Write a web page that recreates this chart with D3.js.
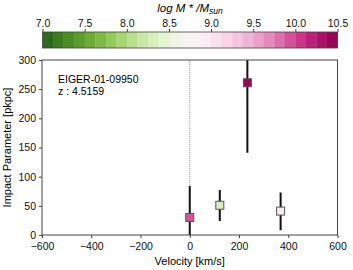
<!DOCTYPE html>
<html>
<head>
<meta charset="utf-8">
<script src="https://cdn.jsdelivr.net/npm/d3@7"></script>
<style>
body { margin: 0; background: #fff; }
text { font-family: "Liberation Sans", Arial, sans-serif; }
</style>
</head>
<body>
<div id="chart"></div>
<script>
// values
var velocities = [0, 122, 234, 369];
var impacts = [30, 51, 261, 41];
var errLow = [0, 24, 141, 8];
var errHigh = [84, 77, 310, 73];
var masses = [9.95, 8.3, 10.4, 8.95];
var xTicks = [-600, -400, -200, 0, 200, 400, 600];
var yTicks = [0, 50, 100, 150, 200, 250, 300];
var cbTicks = [7.0, 7.5, 8.0, 8.5, 9.0, 9.5, 10.0, 10.5];
var label = ["EIGER-01-09950", "z : 4.5159"];

var W = 353, H = 270;
var svg = d3.select("#chart").append("svg")
	.attr("width", W).attr("height", H);

var x = d3.scaleLinear().domain([-600, 600]).range([42, 337.5]);
var y = d3.scaleLinear().domain([0, 300]).range([235, 60]);
var cx = d3.scaleLinear().domain([7, 10.5]).range([42.5, 337.5]);

// discrete PiYG reversed colormap
var nBins = 28;
var colorOf = function(m) {
	var t = (m - 7) / 3.5;
	var k = Math.min(nBins - 1, Math.max(0, Math.floor(t * nBins)));
	return d3.interpolatePiYG(1 - (k + 0.5) / nBins);
};

//Colorbar
var cbY = 32, cbH = 16;
for (var i = 0; i < nBins; i++) {
	var m0 = 7 + i * 3.5 / nBins;
	svg.append("rect")
		.attr("x", cx(m0)).attr("y", cbY)
		.attr("width", cx(m0 + 3.5 / nBins) - cx(m0) + 0.3)
		.attr("height", cbH)
		.style("fill", colorOf(m0 + 0.01));
}
svg.append("rect")
	.attr("x", cx(7)).attr("y", cbY).attr("width", cx(10.5) - cx(7)).attr("height", cbH)
	.style("fill", "none").style("stroke", "#444").style("stroke-width", 0.8);
var cbAxis = svg.append("g")
	.attr("transform", "translate(0," + cbY + ")")
	.call(d3.axisTop(cx).tickValues(cbTicks).tickFormat(d3.format(".1f")).tickSize(3).tickSizeOuter(0));
cbAxis.select(".domain").remove();
cbAxis.selectAll("text").style("font-size", "10.5px").style("fill", "#111").attr("dy", "0.1em");
cbAxis.selectAll("line").style("stroke", "#444");
svg.append("text")
	.attr("x", 190).attr("y", 12)
	.style("font-size", "11.5px").style("font-style", "italic").style("text-anchor", "middle")
	.html("log M * /M<tspan font-size='8.5px' dy='2'>sun</tspan>");

// Axes
var clip = svg.append("clipPath").attr("id", "plotclip").append("rect")
	.attr("x", x(-600)).attr("y", y(300)).attr("width", x(600) - x(-600)).attr("height", y(0) - y(300));

var plot = svg.append("g").attr("clip-path", "url(#plotclip)");

plot.append("line")
	.attr("x1", x(0)).attr("x2", x(0)).attr("y1", y(0)).attr("y2", y(300))
	.style("stroke", "#888").style("stroke-width", 0.8).style("stroke-dasharray", "1,1");

velocities.forEach(function(v, i) {
	plot.append("line")
		.attr("x1", x(v)).attr("x2", x(v))
		.attr("y1", y(errLow[i])).attr("y2", y(errHigh[i]))
		.style("stroke", "#111").style("stroke-width", 2);
});
velocities.forEach(function(v, i) {
	plot.append("rect")
		.attr("x", x(v) - 4).attr("y", y(impacts[i]) - 4)
		.attr("width", 8).attr("height", 8)
		.style("fill", colorOf(masses[i]))
		.style("stroke", "#555").style("stroke-width", 1);
});

svg.append("rect")
	.attr("x", x(-600)).attr("y", y(300)).attr("width", x(600) - x(-600)).attr("height", y(0) - y(300))
	.style("fill", "none").style("stroke", "#444").style("stroke-width", 1);

var xAxis = svg.append("g")
	.attr("transform", "translate(0," + y(0) + ")")
	.call(d3.axisBottom(x).tickValues(xTicks).tickSize(3).tickSizeOuter(0).tickFormat(function(d) { return d < 0 ? "\u2212" + (-d) : d; }));
var yAxis = svg.append("g")
	.attr("transform", "translate(" + x(-600) + ",0)")
	.call(d3.axisLeft(y).tickValues(yTicks).tickSize(3).tickSizeOuter(0));
[xAxis, yAxis].forEach(function(a) {
	a.select(".domain").remove();
	a.selectAll("text").style("font-size", "10.5px").style("fill", "#111");
	a.selectAll("line").style("stroke", "#444");
});
xAxis.selectAll("text").attr("dy", "0.85em");

svg.append("text")
	.attr("x", x(0)).attr("y", 265)
	.style("font-size", "11px").style("text-anchor", "middle")
	.text("Velocity [km/s]");
svg.append("text")
	.attr("transform", "translate(11," + ((y(0) + y(300)) / 2) + ") rotate(-90)")
	.style("font-size", "11px").style("text-anchor", "middle")
	.text("Impact Parameter [pkpc]");

svg.selectAll(".lbl")
	.data(label)
	.enter()
	.append("text")
		.attr("class", "lbl")
		.attr("x", 58)
		.attr("y", function(d, i) { return 83 + i * 12; })
		.style("font-size", "10.5px")
		.text(function(d) { return d; });
</script>
</body>
</html>
